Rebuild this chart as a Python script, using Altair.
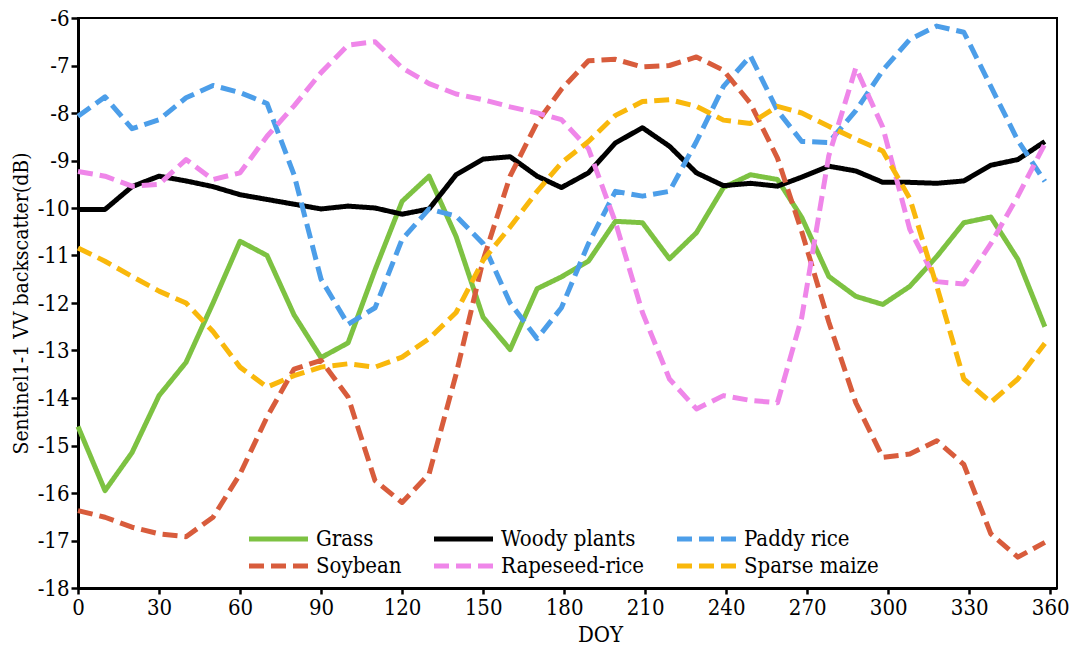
import altair as alt
import pandas as pd

series = ["Grass", "Woody plants", "Paddy rice", "Soybean", "Rapeseed-rice", "Sparse maize"]

doy = [0, 10, 20, 30, 40, 50, 60, 70, 80, 90, 100, 110, 120, 130, 140, 150, 160, 170,
       179, 189, 199, 209, 219, 229, 239, 249, 259, 268, 278, 288, 298, 308, 318, 328,
       338, 348, 358]

grass = [-14.6, -15.95, -15.15, -13.95, -13.25, -12.0, -10.7, -11.0, -12.25, -13.15,
         -12.84, -11.3, -9.86, -9.33, -10.6, -12.3, -12.98, -11.7, -11.45, -11.12,
         -10.28, -10.31, -11.07, -10.52, -9.57, -9.3, -9.4, -10.2, -11.44, -11.86,
         -12.03, -11.65, -11.02, -10.31, -10.19, -11.08, -12.5]

woody = [-10.03, -10.03, -9.55, -9.33, -9.43, -9.55, -9.72, -9.82, -9.92, -10.02,
         -9.96, -10.0, -10.13, -10.02, -9.3, -8.97, -8.92, -9.33, -9.57, -9.26,
         -8.63, -8.31, -8.70, -9.26, -9.53, -9.48, -9.54, -9.35, -9.12, -9.22,
         -9.46, -9.46, -9.48, -9.43, -9.1, -8.98, -8.6]

paddy = [-8.07, -7.66, -8.33, -8.14, -7.68, -7.42, -7.57, -7.8, -9.3, -11.5,
         -12.45, -12.1, -10.66, -10.02, -10.17, -10.75, -12.0, -12.75, -12.1, -10.75,
         -9.65, -9.75, -9.65, -8.6, -7.44, -6.8, -7.95, -8.6, -8.62, -7.95,
         -7.1, -6.45, -6.17, -6.3, -7.44, -8.58, -9.44]

soybean = [-16.37, -16.51, -16.72, -16.86, -16.92, -16.51, -15.6, -14.4, -13.39, -13.21,
           -13.98, -15.74, -16.2, -15.6, -13.5, -11.1, -9.33, -8.2, -7.5, -6.9,
           -6.87, -7.03, -7.0, -6.82, -7.1, -7.8, -8.95, -10.5, -12.4, -14.1,
           -15.25, -15.18, -14.9, -15.4, -16.86, -17.35, -17.04]

rapeseed = [-9.23, -9.33, -9.54, -9.5, -8.98, -9.4, -9.26, -8.49, -7.85, -7.15,
            -6.57, -6.5, -7.05, -7.38, -7.6, -7.72, -7.87, -8.0, -8.14, -8.75,
            -10.3, -12.2, -13.6, -14.23, -13.95, -14.05, -14.1, -12.3, -8.9, -7.05,
            -8.3, -10.45, -11.55, -11.6, -10.75, -9.75, -8.65]

sparse = [-10.84, -11.12, -11.44, -11.75, -12.0, -12.6, -13.35, -13.77, -13.53, -13.35,
          -13.28, -13.35, -13.14, -12.75, -12.2, -11.1, -10.4, -9.65, -9.05, -8.6,
          -8.05, -7.76, -7.72, -7.86, -8.15, -8.22, -7.86, -8.0, -8.28, -8.55,
          -8.8, -9.8, -11.65, -13.6, -14.09, -13.6, -12.85]

x_ticks = [0, 30, 60, 90, 120, 150, 180, 210, 240, 270, 300, 330, 360]
y_ticks = [-18, -17, -16, -15, -14, -13, -12, -11, -10, -9, -8, -7, -6]

colors = ["#7dc242", "#000000", "#4c9ee9", "#d85c3c", "#ef86e9", "#f9b80c"]
dashes = [[1, 0], [1, 0], [15, 7], [15, 7], [15, 7], [15, 7]]

rows = []
for name, vals in zip(series, [grass, woody, paddy, soybean, rapeseed, sparse]):
    for d, v in zip(doy, vals):
        rows.append({"series": name, "doy": d, "value": v})
df = pd.DataFrame(rows)

FONT = "DejaVu Serif Condensed, DejaVu Serif"

legend = alt.Legend(
    title=None,
    orient="none",
    direction="horizontal",
    legendX=172,
    legendY=510,
    columns=3,
    columnPadding=22,
    rowPadding=5,
    padding=0,
    symbolType="M-2.4,0H9.4",
    symbolSize=100,
    symbolStrokeWidth=5,
    labelFont=FONT,
    labelFontSize=22,
    labelColor="black",
    labelOffset=44,
    labelLimit=400,
)

chart = alt.Chart(df).mark_line(strokeWidth=5, strokeJoin="round", strokeCap="butt").encode(
    x=alt.X("doy:Q",
            scale=alt.Scale(domain=[0, 362.5], nice=False, zero=False),
            axis=alt.Axis(values=x_ticks, title="DOY", grid=False,
                          labelFont=FONT, labelFontSize=22, labelColor="black",
                          labelFlush=False, labelOverlap=False, labelPadding=3,
                          tickSize=6, tickWidth=2.5, tickColor="black",
                          domainColor="black", domainWidth=3,
                          titleFont=FONT, titleFontSize=22, titleFontWeight="normal",
                          titleColor="black", titleX=522, titleY=46,
                          titleAlign="center", titleBaseline="middle")),
    y=alt.Y("value:Q",
            scale=alt.Scale(domain=[-18, -6], nice=False, zero=False),
            axis=alt.Axis(values=y_ticks, title="Sentinel1-1 VV backscatter(dB)", grid=False,
                          labelExpr="toString(datum.value)",
                          labelFont=FONT, labelFontSize=22, labelColor="black",
                          labelFlush=False, labelOverlap=False, labelPadding=2,
                          tickSize=7, tickWidth=2.5, tickColor="black",
                          domainColor="black", domainWidth=3,
                          titleFont=FONT, titleFontSize=21, titleFontWeight="normal",
                          titleColor="black", titleX=-57, titleY=285, titleAngle=270,
                          titleAlign="center", titleBaseline="middle")),
    color=alt.Color("series:N", scale=alt.Scale(domain=series, range=colors), legend=legend),
    strokeDash=alt.StrokeDash("series:N", scale=alt.Scale(domain=series, range=dashes), legend=legend),
).properties(
    width=979,
    height=570,
    autosize=alt.AutoSizeParams(type="none"),
    padding={"left": 78, "top": 18, "right": 14, "bottom": 58},
    background="white",
).configure_view(
    stroke="black",
    strokeWidth=2,
)

chart.save("out.html", embed_options={"renderer": "svg", "actions": False})
